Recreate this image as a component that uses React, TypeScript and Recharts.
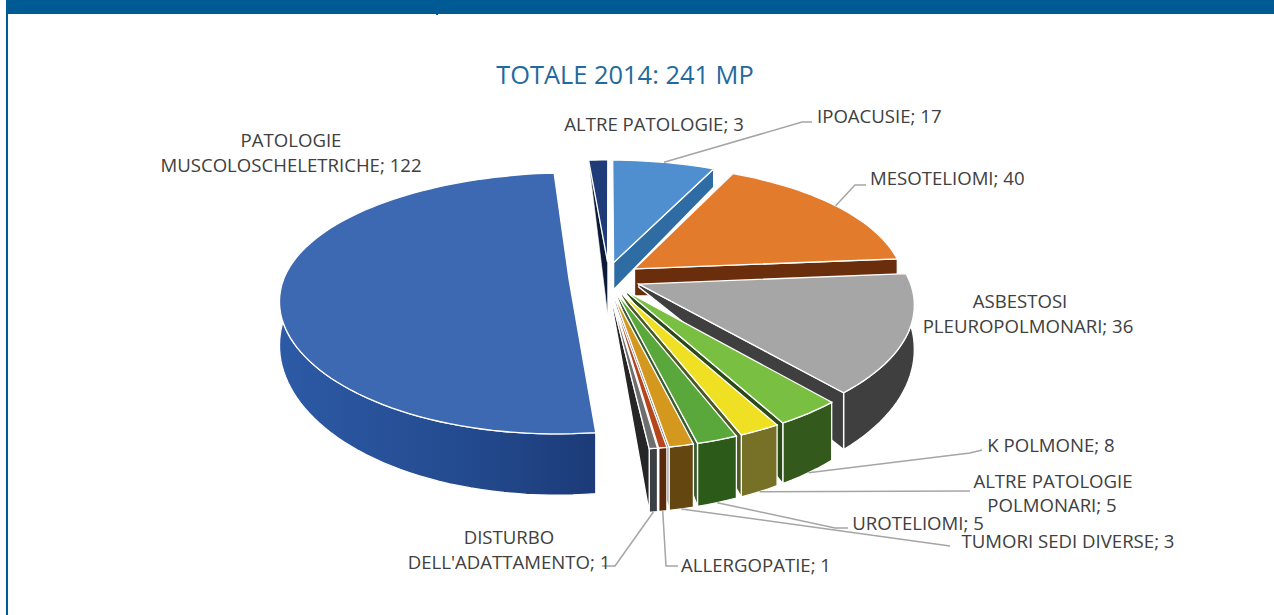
import React from 'react';
import { PieChart, Pie } from 'recharts';

// chart values, clockwise from twelve o'clock ("|" marks a line break in the label)
const categories = ['IPOACUSIE', 'MESOTELIOMI', 'ASBESTOSI|PLEUROPOLMONARI', 'K POLMONE',
  'ALTRE PATOLOGIE|POLMONARI', 'UROTELIOMI', 'TUMORI SEDI DIVERSE', 'ALLERGOPATIE',
  "DISTURBO|DELL'ADATTAMENTO", 'PATOLOGIE|MUSCOLOSCHELETRICHE', 'ALTRE PATOLOGIE'];
const values = [17, 40, 36, 8, 5, 5, 3, 1, 1, 122, 3];
const title = 'TOTALE 2014: 241 MP';

const topColors = ['#4f8fcf', '#e27b2c', '#a6a6a6', '#78bf42', '#f0e024', '#5aa83c', '#d4981f', '#b5451b', '#6e6e6e', '#3d68b2', '#1f3b78'];
const wallColors = ['#2f6ca3', '#6a2e0d', '#3f3f3f', '#335a1c', '#767126', '#2b5a19', '#634610', '#5a280b', '#3a3f44', 'url(#bigWall)', '#0c1a38'];
const endWallColors = ['#2f6ca3', '#6a2e0d', '#3f3f3f', '#2a4a18', '#4a5a22', '#3a5a30', '#55606a', '#777', '#262626', '#1f4585', '#0c1a38'];

// label placement: [x, y] for each text line, and the elbow of each leader line
const labelLines: [number, number][][] = [
  [[817, 115]], [[870, 177]], [[1020, 300], [1028, 325]], [[1051, 444]],
  [[1053, 480], [1052, 504]], [[918, 522]], [[1068, 540]], [[756, 564]],
  [[509, 536], [509, 561]], [[291, 139], [291, 164]], [[654, 123]],
];
const leaders: number[][][] = [
  [[802, 122], [812, 122]], [[855, 185], [866, 185]], [], [[970, 453], [982, 450]],
  [[970, 491]], [[835, 528], [848, 528]], [[950, 546]], [[666, 566], [678, 566]],
  [[615, 566], [602, 566]], [], [],
];

const W = 1274;
const H = 615;
const CX = 606;
const CY = 278;
const RX_LEFT = 285;
const RX_RIGHT = 270;
const RY = 124;
const PERSP = 0.165;
const EXPLODE = 0.13;
const FONT = '"Open Sans", sans-serif';

const rad = (d: number) => (d * Math.PI) / 180;
const project = (x: number, v: number) => {
  const s = 1 / (1 - PERSP * v);
  const rx = x < 0 ? RX_LEFT : RX_RIGHT;
  // the near left part of the original leans a little further out and down
  const lean = x < 0 && v > 0 ? v * v : 0;
  return [CX + rx * x * Math.pow(s, 0.87) - 6 * lean, CY + RY * v * s + 5 * lean];
};
const wallHeight = (v: number) => 40 + 21 * v;
const pathOf = (pts: number[][]) => 'M' + pts.map((p) => `${p[0].toFixed(1)},${p[1].toFixed(1)}`).join('L') + 'Z';

// theta is measured clockwise from the top, in the exploded unit disc of the slice
const rimPoint = (theta: number, mid: number, r = 1) => {
  const x = EXPLODE * Math.sin(rad(mid)) + r * Math.sin(rad(theta));
  const v = -EXPLODE * Math.cos(rad(mid)) - r * Math.cos(rad(theta));
  const [X, Y] = project(x, v);
  return { X, Y, v };
};

const Slice3D = (props: any) => {
  const { startAngle, endAngle, payload } = props;
  const i = payload.slot;
  const a = 90 - startAngle;
  const b = 90 - endAngle;
  const mid = (a + b) / 2;
  const apex = rimPoint(0, mid, 0);
  const apexDrop = apex.v < -0.06 ? 27 : 3;

  const rim: { X: number; Y: number; v: number }[] = [];
  const n = Math.max(2, Math.ceil((b - a) / 2));
  for (let k = 0; k <= n; k++) rim.push(rimPoint(a + ((b - a) * k) / n, mid));
  const top = rim.map((p) => [p.X, p.Y]);
  const base = rim.map((p) => [p.X, p.Y + wallHeight(p.v)]);
  const first = rim[0];
  const last = rim[n];
  const isBig = i === 9;
  const isSliver = i === 10;

  let cut = null;
  if (isSliver) {
    // the small back slice shows its left cut face, closing to nothing at the rim
    cut = pathOf([[first.X, first.Y], [apex.X, apex.Y + 52], [apex.X, apex.Y]]);
  } else if (!isBig) {
    cut = pathOf([[apex.X, apex.Y], [last.X, last.Y], [last.X, last.Y + wallHeight(last.v)], [apex.X, apex.Y + apexDrop]]);
  }

  return (
    <g transform={isSliver ? 'translate(3,0)' : undefined}>
      {!isSliver && <path d={pathOf([...top, ...base.slice().reverse()])} fill={wallColors[i]} stroke="#fff" strokeWidth={1.3} />}
      {cut && <path d={cut} fill={endWallColors[i]} stroke="#fff" strokeWidth={isSliver ? 0.6 : 1.3} />}
      <path d={pathOf([[apex.X, apex.Y], ...top])} fill={topColors[i]} stroke="#fff" strokeWidth={1.3} />
    </g>
  );
};

const SliceLabel = (props: any) => {
  const { index, midAngle } = props;
  const mid = 90 - midAngle;
  const p = rimPoint(mid, mid);
  const start = [p.X, p.v > 0.2 ? p.Y + wallHeight(p.v) : p.Y];
  const elbow = leaders[index];
  const text = `${categories[index]}; ${values[index]}`.split('|');
  return (
    <g>
      {elbow.length > 0 && (
        <polyline points={[start, ...elbow].map((q) => q.join(',')).join(' ')} fill="none" stroke="#a5a5a5" strokeWidth={1.5} />
      )}
      {text.map((line, k) => (
        <text key={k} x={labelLines[index][k][0]} y={labelLines[index][k][1]} textAnchor={index < 2 ? 'start' : 'middle'}
          dominantBaseline="central" fontFamily={FONT} fontSize={18.6} fill="#404040">{line}</text>
      ))}
    </g>
  );
};

const rows = categories.map((name, slot) => ({ name, value: values[slot], slot }));

export default function App() {
  return (
    <div style={{ position: 'absolute', left: 0, top: 0, width: W, height: H }}>
      <PieChart width={W} height={H} margin={{ top: 0, right: 0, bottom: 0, left: 0 }}>
        <defs>
          <linearGradient id="bigWall" x1="0" y1="0" x2="1" y2="0">
            <stop offset="0" stopColor="#2d5aa6" />
            <stop offset="0.6" stopColor="#234a8e" />
            <stop offset="1" stopColor="#1c3b78" />
          </linearGradient>
        </defs>
        <rect x={6} y={0} width={W - 6} height={14} fill="#005a93" />
        <rect x={6} y={14} width={2} height={H - 14} fill="#005a93" />
        <rect x={436} y={14} width={2} height={1} fill="#005a93" />
        <text x={625} y={74} textAnchor="middle" dominantBaseline="central" fontFamily={FONT} fontSize={25.4} fill="#1f6a9e">{title}</text>
        <Pie data={rows} dataKey="value" nameKey="name" cx={CX} cy={CY} outerRadius={RX_RIGHT}
          startAngle={90} endAngle={-270} stroke="none" isAnimationActive={false}
          shape={Slice3D} label={SliceLabel} labelLine={false} />
      </PieChart>
    </div>
  );
}
